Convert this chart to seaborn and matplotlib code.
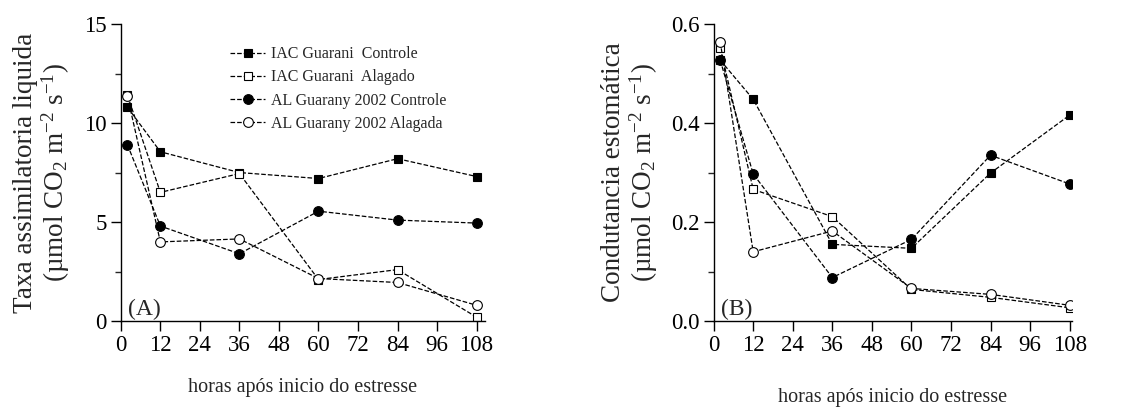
import numpy as np
import pandas as pd
import seaborn as sns
import matplotlib.pyplot as plt
from matplotlib.ticker import MultipleLocator

# horas apos inicio do estresse
horas = [2, 12, 36, 60, 84, 108]

# (A) taxa assimilatoria liquida
a_iac_controle = [10.8, 8.55, 7.5, 7.2, 8.2, 7.3]
a_iac_alagado = [11.4, 6.5, 7.45, 2.1, 2.6, 0.2]
a_al_controle = [8.9, 4.8, 3.4, 5.55, 5.1, 4.95]
a_al_alagada = [11.35, 4.0, 4.15, 2.15, 1.95, 0.8]

# (B) condutancia estomatica
b_iac_controle = [0.527, 0.448, 0.155, 0.147, 0.299, 0.416]
b_iac_alagado = [0.552, 0.266, 0.211, 0.064, 0.048, 0.027]
b_al_controle = [0.527, 0.297, 0.088, 0.165, 0.335, 0.277]
b_al_alagada = [0.564, 0.14, 0.182, 0.066, 0.054, 0.032]

nomes = ['IAC Guarani  Controle', 'IAC Guarani  Alagado',
         'AL Guarany 2002 Controle', 'AL Guarany 2002 Alagada']
marcadores = ['s', 's', 'o', 'o']
preenchido = [True, False, True, False]

sns.set_style('ticks')
plt.rcParams['font.family'] = ['Liberation Serif', 'DejaVu Serif']
plt.rcParams['mathtext.fontset'] = 'custom'
plt.rcParams['mathtext.rm'] = 'Liberation Serif'
plt.rcParams['mathtext.it'] = 'Liberation Serif:italic'

fig = plt.figure(figsize=(11.4, 4.07), dpi=100)
ax1 = fig.add_axes([0.106, 0.211, 0.319, 0.73])
ax2 = fig.add_axes([0.626, 0.211, 0.314, 0.73])


def desenha(ax, series):
    for vals, nome, m, cheio in zip(series, nomes, marcadores, preenchido):
        df = pd.DataFrame({'horas': horas, 'valor': vals})
        sns.lineplot(data=df, x='horas', y='valor', ax=ax, color='black',
                     linestyle='--', linewidth=0.9, dashes=(5, 3),
                     marker=m, markersize=7 if m == 'o' else 6,
                     markerfacecolor='black' if cheio else 'white',
                     markeredgecolor='black', markeredgewidth=0.8,
                     label=nome, legend=False)


desenha(ax1, [a_iac_controle, a_iac_alagado, a_al_controle, a_al_alagada])
desenha(ax2, [b_iac_controle, b_iac_alagado, b_al_controle, b_al_alagada])

for ax in (ax1, ax2):
    sns.despine(ax=ax)
    ax.xaxis.set_major_locator(MultipleLocator(12))
    ax.tick_params(axis='both', which='major', direction='out', length=7,
                   width=1, labelsize=16.5, colors='black', pad=3)
    ax.tick_params(axis='y', which='minor', direction='out', length=4, width=1)
    ax.tick_params(axis='x', which='minor', length=0)
    for s in ax.spines.values():
        s.set_color('black')
        s.set_linewidth(1)
    ax.set_xlabel('horas após inicio do estresse', fontsize=14.5, labelpad=16)

ax1.set_xlim(0, 110.4)
ax1.set_ylim(0, 15)
ax1.yaxis.set_major_locator(MultipleLocator(5))
ax1.yaxis.set_minor_locator(MultipleLocator(2.5))
ax1.set_ylabel('Taxa assimilatoria liquida\n(µmol CO$_2$ m$^{-2}$ s$^{-1}$)',
               fontsize=19.5, labelpad=9, linespacing=1.05)
ax1.text(0.02, 0.005, '(A)', transform=ax1.transAxes, fontsize=17,
         ha='left', va='bottom')

ax2.set_xlim(0, 108.6)
ax2.set_ylim(0, 0.6)
ax2.yaxis.set_major_locator(MultipleLocator(0.2))
ax2.yaxis.set_minor_locator(MultipleLocator(0.1))
ax2.yaxis.set_major_formatter(plt.FormatStrFormatter('%.1f'))
ax2.set_ylabel('Condutancia estomática\n(µmol CO$_2$ m$^{-2}$ s$^{-1}$)',
               fontsize=19.5, labelpad=8, linespacing=1.05)
ax2.xaxis.labelpad = 23
ax2.text(0.02, 0.005, '(B)', transform=ax2.transAxes, fontsize=17,
         ha='left', va='bottom')

ax1.legend(loc='upper left', bbox_to_anchor=(0.30, 0.925), frameon=False,
           fontsize=11.5, handlelength=2.2, handletextpad=0.4,
           labelspacing=0.45, borderpad=0, borderaxespad=0)

fig.savefig('out.png', dpi=100)
